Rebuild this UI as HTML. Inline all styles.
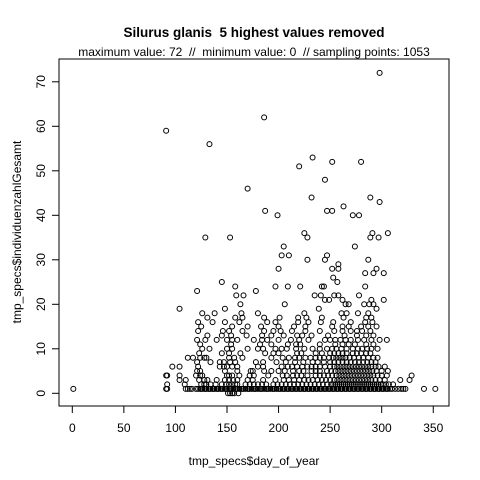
<!DOCTYPE html>
<html><head><meta charset="utf-8"><style>
body{margin:0;background:#fff}
svg{display:block;font-family:"Liberation Sans",Arial,sans-serif}
svg text{white-space:pre}
</style></head><body>
<svg id="chart" width="480" height="480" viewBox="0 0 480 480">
<rect width="480" height="480" fill="#fff"/>
<text xml:space="preserve" x="254" y="37" text-anchor="middle" font-weight="bold" font-size="13.5">Silurus glanis  5 highest values removed</text>
<text xml:space="preserve" x="254" y="56" text-anchor="middle" font-size="12">maximum value: 72  //  minimum value: 0  // sampling points: 1053</text>
<rect x="59" y="59" width="390" height="347" fill="none" stroke="#000" stroke-width="1"/>
<g id="xaxis"></g>
<g id="yaxis"></g>
<g id="points"></g>
<text x="254" y="465" text-anchor="middle" font-size="12">tmp_specs$day_of_year</text>
<text transform="translate(21,232) rotate(-90)" text-anchor="middle" font-size="12">tmp_specs$individuenzahlGesamt</text>
</svg>
<script>
const xTicks=[0,50,100,150,200,250,300,350];
const yTicks=[0,10,20,30,40,50,60,70];
const rowValues=[0,1,2,3,4,5,6,7,8,9,10,11,12,13,14,15,16,17,18,19,20,21,22,23,24,25,26,27,28,29,30,31,33,35,36,40,41,42,43,44,46,48,51,52,53,56,59,62,72];
const rowDays=[
[151,153,155,157,161],
[1,91,92,110,112,114,116,120,122,124,126,128,130,132,134,136,138,140,142,144,146,148,150,152,154,156,158,160,162,164,166,168,170,172,174,176,178,180,182,184,186,188,190,192,194,196,198,200,202,204,206,208,210,212,214,216,218,220,222,224,226,228,230,232,234,236,238,240,242,244,246,248,250,252,254,256,258,260,262,264,266,268,270,272,274,276,278,280,282,284,286,288,290,292,294,296,298,300,302,304,306,308,310,313,316,319,321,323,341,352,125,129,133,137,141,145,149,153,159,165,171,177,183,189,195,201,205,209,213,217,221,225,229,233,237,241,245,249,253,257,261,265,269,273,277,281,285,289,293,297,301,305],
[92,109,125,128,130,134,139,145,149,152,155,158,160,168,172,176,180,184,188,195,199,203,207,211,215,219,223,227,231,235,239,243,247,251,253,255,257,259,261,263,265,267,269,271,273,275,277,279,281,283,285,287,289,291,293,295,297,299,301,304,307,311],
[104,110,123,128,131,140,148,152,156,160,170,175,185,197,205,210,215,220,225,229,233,238,242,246,250,254,257,260,263,266,269,272,275,278,281,284,287,290,294,298,303,318,327],
[91,92,104,120,124,126,150,152,155,162,172,176,190,204,208,214,218,222,228,236,240,244,248,252,256,259,262,265,268,271,274,277,280,283,286,289,292,296,300,305,329],
[121,124,148,160,173,175,186,193,200,206,214,220,224,232,236,240,247,251,255,258,261,264,267,270,273,276,279,282,285,288,291,295,300,306],
[97,104,122,143,147,150,155,160,180,185,203,209,213,218,223,228,232,236,240,245,250,254,257,260,263,266,269,272,275,278,281,284,287,290,294,297,303],
[121,134,143,147,153,158,178,185,198,207,216,224,233,238,244,250,254,258,262,266,270,274,278,282,286,290,294],
[112,117,124,128,130,152,157,165,193,204,210,216,220,226,231,236,240,244,249,253,256,259,262,265,269,273,278,282,287,292,296],
[123,145,152,163,187,195,200,218,222,236,242,250,254,258,262,266,272,276,280,285,289],
[126,133,150,155,170,180,185,197,203,208,217,225,233,240,247,252,256,261,266,272,277,281,286,290,296],
[124,154,182,193,209,217,221,240,255,262,268,274,285,292],
[121,129,140,150,155,160,176,184,189,200,212,220,229,245,250,255,260,265,270,277,283,290,298,305],
[131,145,154,169,184,193,205,218,223,232,248,264,276,285,292],
[122,146,152,165,186,195,202,213,226,240,254,262,270,276,281,289],
[125,155,170,183,200,215,226,252,262,268,280,287,295],
[122,136,148,162,189,197,219,229,241,253,270,284,291],
[131,158,165,186,201,219,227,242,263,285,290],
[126,138,164,180,225,261,266,277,287],
[104,148,239,295],
[163,206,265,268,283,288,292],
[245,249,262,290,302],
[159,166,235,241,254,258,278],
[121,178],
[158,197,209,221,242,244,284],
[145,257],
[253],
[284,292,302],
[200,252,258,295],
[258],
[228,245,287],
[203,210,247],
[205,274],
[129,153,228,289,297],
[225,291,306],
[199,272,278],
[187,247,252],
[263],
[298],
[232,289],
[170],
[245],
[220],
[252,280],
[233],
[133],
[91],
[186],
[298]
];
const NS="http://www.w3.org/2000/svg";
function xs(d){return 72.3+d*1.0313;}
function ys(v){return 393.3-v*4.45;}
const xa=document.getElementById('xaxis'),ya=document.getElementById('yaxis'),pg=document.getElementById('points');
function mk(tag,attrs){const e=document.createElementNS(NS,tag);for(const k in attrs)e.setAttribute(k,attrs[k]);return e;}
xa.appendChild(mk('line',{x1:xs(xTicks[0]),x2:xs(xTicks[xTicks.length-1]),y1:406,y2:406,stroke:'#000'}));
xTicks.forEach(t=>{
  const l=mk('line',{x1:xs(t),x2:xs(t),y1:406,y2:413,stroke:'#000'});
  
  
  xa.appendChild(l);
  const tx=mk('text',{x:xs(t),y:432,'text-anchor':'middle','font-size':12});
  
  
  tx.textContent=t;xa.appendChild(tx);
});
ya.appendChild(mk('line',{x1:59,x2:59,y1:ys(yTicks[0]),y2:ys(yTicks[yTicks.length-1]),stroke:'#000'}));
yTicks.forEach(t=>{
  const l=mk('line',{x1:52,x2:59,y1:ys(t),y2:ys(t),stroke:'#000'});
  
  
  ya.appendChild(l);
  const tx=mk('text',{transform:'translate(45,'+ys(t)+') rotate(-90)','text-anchor':'middle','font-size':12});
  
  
  tx.textContent=t;ya.appendChild(tx);
});
rowValues.forEach((v,i)=>{
  rowDays[i].forEach(d=>{
    const c=mk('circle',{cx:xs(d),cy:ys(v),r:2.5,fill:'none',stroke:'#000','stroke-width':1});
    
    
    pg.appendChild(c);
  });
});
</script>
</body></html>
